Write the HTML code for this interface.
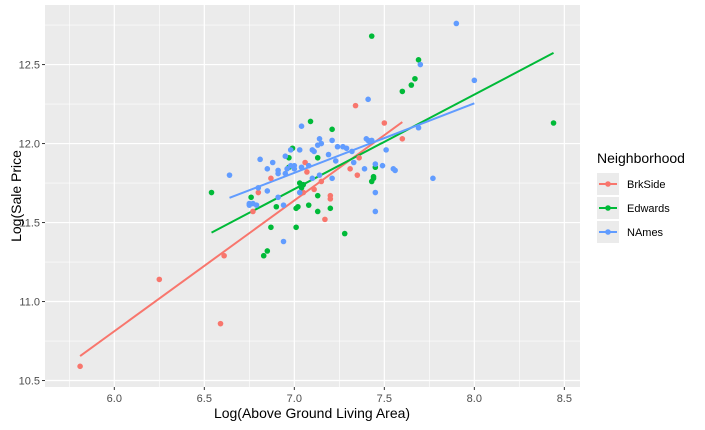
<!DOCTYPE html>
<html><head><meta charset="utf-8"><style>
body{margin:0;background:#fff;}
svg{font-family:"Liberation Sans",Arial,sans-serif;display:block}
</style></head><body>
<svg id="chart" width="705" height="430">
<rect x="45" y="5" width="535" height="382" fill="#EBEBEB"/>
<g id="grid"></g><g id="lines"></g><g id="points"></g><g id="axes"></g>
<text x="312" y="418" text-anchor="middle" font-size="14" fill="#000">Log(Above Ground Living Area)</text>
<text transform="translate(21,196) rotate(-90)" text-anchor="middle" font-size="14" fill="#000">Log(Sale Price</text>
<g>
<text x="597" y="163" font-size="14" fill="#000">Neighborhood</text>
<g id="legend-keys"></g>
</g>
</svg>
<script>
const xTicks=[6.0,6.5,7.0,7.5,8.0,8.5];
const yTicks=[10.5,11.0,11.5,12.0,12.5];
const groups=["BrkSide","Edwards","NAmes"];
const colors=["#F8766D","#00BA38","#619CFF"];
const brkX=[5.81,6.25,6.61,6.59,6.77,6.80,7.34,7.50,7.60,7.06,7.07,6.87,7.11,7.15,7.05,7.20,7.20,7.31,7.35,7.36,7.17];
const brkY=[10.59,11.14,11.29,10.86,11.57,11.69,12.24,12.13,12.03,11.88,11.82,11.78,11.71,11.76,11.69,11.67,11.65,11.84,11.80,11.91,11.52];
const edwX=[7.69,7.67,7.65,7.60,7.43,8.44,7.09,7.21,6.99,6.97,7.13,6.97,7.45,7.44,7.44,7.43,7.03,7.05,7.04,6.54,6.76,7.13,6.90,7.02,7.01,7.08,7.20,7.13,6.87,7.01,7.28,6.85,6.83];
const edwY=[12.53,12.41,12.37,12.33,12.68,12.13,12.14,12.09,11.97,11.91,11.91,11.85,11.85,11.79,11.78,11.76,11.75,11.74,11.72,11.69,11.66,11.67,11.60,11.60,11.59,11.61,11.59,11.57,11.47,11.47,11.43,11.32,11.29];
const namX=[7.90,8.00,7.70,7.41,7.04,7.14,7.15,7.13,7.21,7.24,7.27,7.29,7.32,7.40,7.41,7.43,7.51,7.69,7.03,6.98,7.10,7.11,7.19,6.95,6.81,6.88,6.85,6.91,6.91,6.96,6.95,6.98,7.00,7.00,7.04,7.08,7.23,7.33,7.39,7.45,7.49,7.55,7.56,7.77,6.64,7.10,7.14,7.21,6.80,6.85,7.03,7.45,6.91,6.75,6.77,6.79,6.75,6.94,7.45,6.94];
const namY=[12.76,12.40,12.50,12.28,12.11,12.03,12.00,11.99,12.02,11.98,11.98,11.97,11.95,12.03,12.02,12.02,11.96,12.10,11.96,11.96,11.96,11.95,11.93,11.92,11.90,11.88,11.84,11.83,11.81,11.84,11.81,11.86,11.86,11.84,11.85,11.86,11.89,11.88,11.84,11.87,11.86,11.84,11.83,11.78,11.80,11.78,11.80,11.78,11.72,11.70,11.69,11.69,11.66,11.62,11.62,11.61,11.61,11.61,11.57,11.38];

const NS="http://www.w3.org/2000/svg";
const L=45,R=580,T=5,B=387,xmin=5.615,xmax=8.587,ymin=10.459,ymax=12.877;
function sx(v){return L+(v-xmin)/(xmax-xmin)*(R-L);}
function sy(v){return B-(v-ymin)/(ymax-ymin)*(B-T);}
function mk(tag,attrs,parent){const e=document.createElementNS(NS,tag);for(const k in attrs)e.setAttribute(k,attrs[k]);parent.appendChild(e);return e;}
const grid=document.getElementById('grid'),axes=document.getElementById('axes');
// minor
for(let i=0;i<xTicks.length+1;i++){const v=xTicks[0]-0.25+i*0.5;if(v>xmin&&v<xmax){const g=mk('line',{x1:sx(v),x2:sx(v),y1:T,y2:B,stroke:'#fff','stroke-width':0.6},grid);}}
for(let i=0;i<yTicks.length+1;i++){const v=yTicks[0]-0.25+i*0.5;if(v>ymin&&v<ymax){const g=mk('line',{x1:L,x2:R,y1:sy(v),y2:sy(v),stroke:'#fff','stroke-width':0.6},grid);}}
xTicks.forEach(v=>{const g=mk('line',{x1:sx(v),x2:sx(v),y1:T,y2:B,stroke:'#fff','stroke-width':1.2},grid);

mk('line',{x1:sx(v),x2:sx(v),y1:B,y2:B+3,stroke:'#333','stroke-width':1},axes);
const t=mk('text',{x:sx(v),y:B+15,'text-anchor':'middle','font-size':11,fill:'#4D4D4D'},axes);t.textContent=v.toFixed(1);
});
yTicks.forEach(v=>{const g=mk('line',{x1:L,x2:R,y1:sy(v),y2:sy(v),stroke:'#fff','stroke-width':1.2},grid);

mk('line',{x1:L-3,x2:L,y1:sy(v),y2:sy(v),stroke:'#333','stroke-width':1},axes);
const t=mk('text',{x:L-5,y:sy(v)+4,'text-anchor':'end','font-size':11,fill:'#4D4D4D'},axes);t.textContent=v.toFixed(1);
});
const series=[[brkX,brkY],[edwX,edwY],[namX,namY]];
const lines=document.getElementById('lines'),pts=document.getElementById('points');
series.forEach((s,gi)=>{const xs=s[0],ys=s[1],n=xs.length;
let mx=0,my=0;for(let i=0;i<n;i++){mx+=xs[i];my+=ys[i];}mx/=n;my/=n;
let sxy=0,sxx=0;for(let i=0;i<n;i++){sxy+=(xs[i]-mx)*(ys[i]-my);sxx+=(xs[i]-mx)**2;}
const b=sxy/sxx,a=my-b*mx,x0=Math.min(...xs),x1=Math.max(...xs);
const ln=mk('line',{x1:sx(x0),y1:sy(a+b*x0),x2:sx(x1),y2:sy(a+b*x1),stroke:colors[gi],'stroke-width':2},lines);

for(let i=0;i<n;i++){const c=mk('circle',{cx:sx(xs[i]),cy:sy(ys[i]),r:2.8,fill:colors[gi]},pts);
}});
const lk=document.getElementById('legend-keys');
groups.forEach((g,i)=>{const y=184+i*24;
const r=mk('rect',{x:597,y:y-11,width:22,height:22,fill:'#EBEBEB'},lk);
mk('line',{x1:599,x2:617,y1:y,y2:y,stroke:colors[i],'stroke-width':2},lk);
mk('circle',{cx:608,cy:y,r:2.8,fill:colors[i]},lk);
const t=mk('text',{x:627,y:y+4,'font-size':11,fill:'#000'},lk);t.textContent=g;
});
</script>
</body></html>
